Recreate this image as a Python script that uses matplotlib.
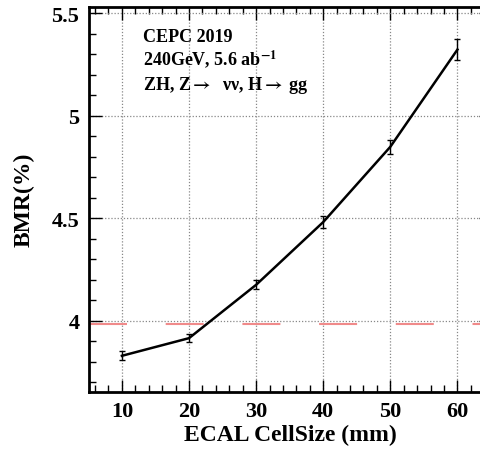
import numpy as np
import matplotlib.pyplot as plt
from matplotlib.ticker import MultipleLocator

cell_size = [10, 20, 30, 40, 50, 60]
bmr = [3.829, 3.915, 4.175, 4.481, 4.848, 5.322]
bmr_err = [0.022, 0.020, 0.022, 0.030, 0.035, 0.050]
ref_level = 3.986

plt.rcParams['font.family'] = ['Liberation Serif', 'DejaVu Serif']
plt.rcParams['font.weight'] = 'bold'
plt.rcParams['mathtext.fontset'] = 'stix'

fig = plt.figure(figsize=(4.8, 4.56), dpi=100)
# axes run past the right edge of the canvas
ax = fig.add_axes([89 / 480, 1 - 392.7 / 456, 402 / 480, 385 / 456])

ax.errorbar(cell_size, bmr, yerr=bmr_err, fmt='none', ecolor='black',
            elinewidth=1.0, capsize=2, capthick=1.0, zorder=4)
ax.plot(cell_size, bmr, color='black', lw=1.8, zorder=3)

lw_ref = 1.5
ax.axhline(ref_level, color='#f08a8a', lw=lw_ref,
           dashes=(38 * 0.72 / lw_ref, 38.7 * 0.72 / lw_ref), zorder=2)

ax.set_xlim(5.1, 65.0)
ax.set_ylim(3.654, 5.531)
ax.xaxis.set_major_locator(MultipleLocator(10))
ax.xaxis.set_minor_locator(MultipleLocator(2))
ax.yaxis.set_minor_locator(MultipleLocator(0.1))
ax.set_yticks([4, 4.5, 5, 5.5])
ax.set_yticklabels(['4', '4.5', '5', '5.5'])

ax.grid(True, which='major', color='#888888', ls=(0, (1, 1.5)), lw=0.9)
ax.tick_params(which='both', direction='in', top=True, right=True,
               labelsize=16, width=1.0, pad=7)
ax.tick_params(which='major', length=9)
ax.tick_params(which='minor', length=5)
for sp in ax.spines.values():
    sp.set_linewidth(2.0)

ax.set_xlabel('ECAL CellSize (mm)', fontsize=17, fontweight='bold', labelpad=2)
ax.set_ylabel('BMR(%)', fontsize=17, fontweight='bold', labelpad=12)

txt = ['CEPC 2019', r'240GeV, 5.6 ab$^{\mathbf{-1}}$',
       'ZH, Z$\\rightarrow$  \u03bd\u03bd, H$\\rightarrow$ gg']
for i, t in enumerate(txt):
    fig.text(142.7 / 480, 1 - (41.7 + 24.2 * i) / 456, t, fontsize=13,
             fontweight='bold', va='baseline', ha='left')

fig.savefig('out.png', dpi=100)
